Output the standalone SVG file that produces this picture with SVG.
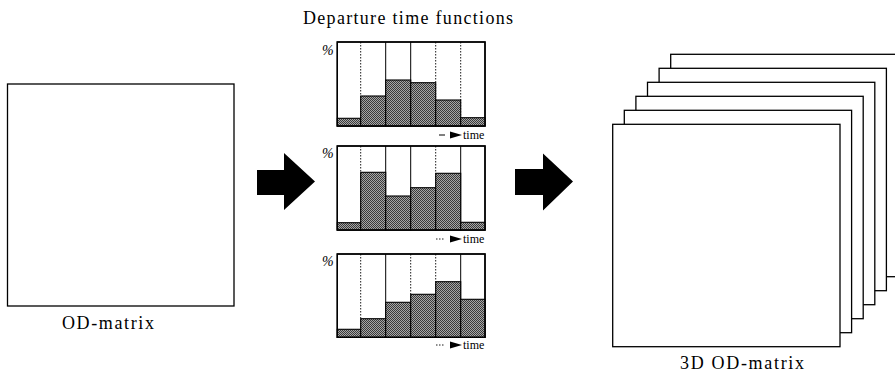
<svg xmlns="http://www.w3.org/2000/svg" width="895" height="373" viewBox="0 0 895 373">
  <defs>
    <pattern id="hatch" patternUnits="userSpaceOnUse" width="2" height="2">
      <rect width="2" height="2" fill="#a6a6a6"/>
      <rect width="1" height="1" fill="#3a3a3a"/>
      <rect x="1" y="1" width="1" height="1" fill="#3a3a3a"/>
    </pattern>
  </defs>
  <style>
    .lbl { font-family: "Liberation Serif", "Times New Roman", serif; fill: #000; }
    .box { fill: #fff; stroke: #000; stroke-width: 1.3; }
    .frame { fill: #fff; stroke: #000; stroke-width: 1.4; }
    .bar { fill: url(#hatch); stroke: #000; stroke-width: 1.1; }
    .div { stroke: #000; stroke-width: 1; }
    .dot { stroke: #000; stroke-width: 0.9; stroke-dasharray: 1.5 1.5; }
    .blk { fill: #000; }
    .small { font-size: 12px; }
    .pct { font-size: 14px; font-style: italic; }
  </style>

  <!-- title above the charts -->
  <text class="lbl" x="303" y="24" font-size="18" textLength="210" lengthAdjust="spacing">Departure time functions</text>

  <!-- plain OD matrix -->
  <g id="od-matrix">
    <rect class="box" x="7.5" y="84" width="226.5" height="222"/>
    <text class="lbl" x="62" y="329" font-size="18" textLength="92" lengthAdjust="spacing">OD-matrix</text>
  </g>

  <!-- departure time function charts -->
  <g id="chart-1">
    <rect class="frame" x="337.3" y="42" width="147.7" height="84"/>
    <line class="dot" x1="360.7" y1="42" x2="360.7" y2="126"/>
    <line class="div" x1="385.7" y1="42" x2="385.7" y2="126"/>
    <line class="div" x1="410.7" y1="42" x2="410.7" y2="126"/>
    <line class="dot" x1="435.7" y1="42" x2="435.7" y2="126"/>
    <line class="dot" x1="460.7" y1="42" x2="460.7" y2="126"/>
    <rect class="bar" x="337.3" y="118.3" width="23.4" height="7.7"/>
    <rect class="bar" x="360.7" y="96" width="25" height="30"/>
    <rect class="bar" x="385.7" y="80" width="25" height="46"/>
    <rect class="bar" x="410.7" y="82.7" width="25" height="43.3"/>
    <rect class="bar" x="435.7" y="100" width="25" height="26"/>
    <rect class="bar" x="460.7" y="117.7" width="24.3" height="8.3"/>
    <rect x="337.3" y="42" width="147.7" height="84" fill="none" stroke="#000" stroke-width="1.4"/>
    <text class="lbl pct" x="322" y="55">%</text>
    <line class="div" x1="439" y1="135" x2="445" y2="135"/>
    <polygon class="blk" points="450,131.5 462,135 450,138.5"/>
    <text class="lbl small" x="463" y="138.5">time</text>
  </g>

  <g id="chart-2">
    <rect class="frame" x="337.3" y="146" width="147.7" height="84"/>
    <line class="dot" x1="360.7" y1="146" x2="360.7" y2="230"/>
    <line class="div" x1="385.7" y1="146" x2="385.7" y2="230"/>
    <line class="div" x1="410.7" y1="146" x2="410.7" y2="230"/>
    <line class="dot" x1="435.7" y1="146" x2="435.7" y2="230"/>
    <line class="div" x1="460.7" y1="146" x2="460.7" y2="230"/>
    <rect class="bar" x="337.3" y="222.7" width="23.4" height="7.3"/>
    <rect class="bar" x="360.7" y="172.3" width="25" height="57.7"/>
    <rect class="bar" x="385.7" y="196" width="25" height="34"/>
    <rect class="bar" x="410.7" y="187.7" width="25" height="42.3"/>
    <rect class="bar" x="435.7" y="173.3" width="25" height="56.7"/>
    <rect class="bar" x="460.7" y="222.3" width="24.3" height="7.7"/>
    <rect x="337.3" y="146" width="147.7" height="84" fill="none" stroke="#000" stroke-width="1.4"/>
    <text class="lbl pct" x="322" y="158">%</text>
    <line class="dot" x1="436" y1="239" x2="445" y2="239"/>
    <polygon class="blk" points="450,235.5 462,239 450,242.5"/>
    <text class="lbl small" x="463" y="242.5">time</text>
  </g>

  <g id="chart-3">
    <rect class="frame" x="337.3" y="254" width="147.7" height="83.3"/>
    <line class="dot" x1="360.7" y1="254" x2="360.7" y2="337.3"/>
    <line class="div" x1="385.7" y1="254" x2="385.7" y2="337.3"/>
    <line class="dot" x1="410.7" y1="254" x2="410.7" y2="337.3"/>
    <line class="dot" x1="435.7" y1="254" x2="435.7" y2="337.3"/>
    <line class="div" x1="460.7" y1="254" x2="460.7" y2="337.3"/>
    <rect class="bar" x="337.3" y="329.3" width="23.4" height="8"/>
    <rect class="bar" x="360.7" y="318.7" width="25" height="18.6"/>
    <rect class="bar" x="385.7" y="302.3" width="25" height="35"/>
    <rect class="bar" x="410.7" y="294.3" width="25" height="43"/>
    <rect class="bar" x="435.7" y="281.7" width="25" height="55.6"/>
    <rect class="bar" x="460.7" y="299.3" width="24.3" height="38"/>
    <rect x="337.3" y="254" width="147.7" height="83.3" fill="none" stroke="#000" stroke-width="1.4"/>
    <text class="lbl pct" x="322" y="266">%</text>
    <line class="dot" x1="436" y1="345" x2="445" y2="345"/>
    <polygon class="blk" points="450,341.5 462,345 450,348.5"/>
    <text class="lbl small" x="463" y="348.5">time</text>
  </g>

  <!-- stacked OD matrices, one layer per time slice, back to front -->
  <g id="od-matrix-3d">
    <rect class="box" x="670.7" y="54.3" width="227.3" height="222.4"/>
    <rect class="box" x="659.1" y="68.3" width="227.3" height="222.4"/>
    <rect class="box" x="647.5" y="82.3" width="227.3" height="222.4"/>
    <rect class="box" x="635.9" y="96.3" width="227.3" height="222.4"/>
    <rect class="box" x="624.3" y="110.3" width="227.3" height="222.4"/>
    <rect class="box" x="612.7" y="124.3" width="227.3" height="222.4"/>
    <text class="lbl" x="680" y="369" font-size="18" textLength="124" lengthAdjust="spacing">3D OD-matrix</text>
  </g>

  <!-- block arrows between the stages -->
  <g id="connectors">
    <polygon class="blk" points="257,170 284,170 284,153 315,181.5 284,210 284,195 257,195"/>
    <polygon class="blk" points="515,169 543,169 543,153.5 573,181.5 543,210.5 543,195 515,195"/>
  </g>
</svg>
